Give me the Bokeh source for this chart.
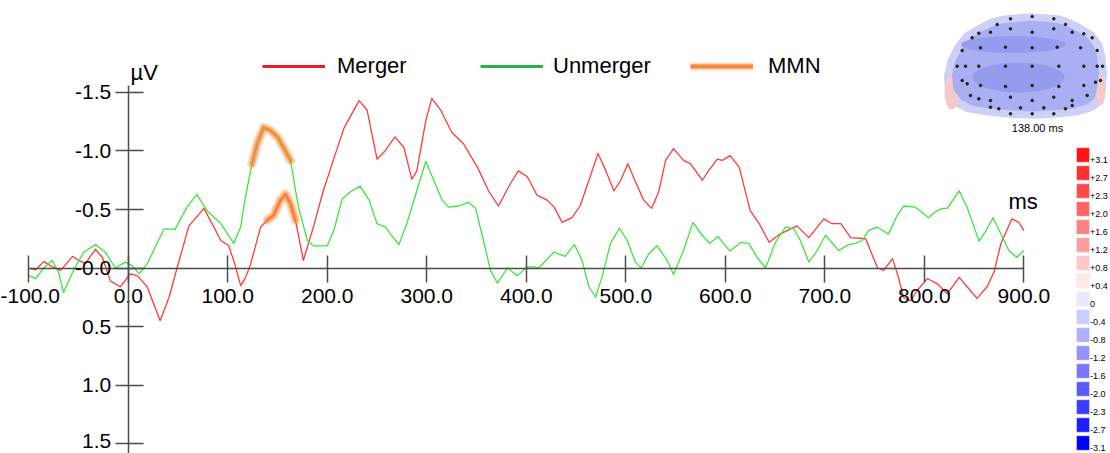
import numpy as np
from bokeh.plotting import figure
from bokeh.models import Range1d, FixedTicker, Legend, LegendItem
from bokeh.core.properties import value
from bokeh.embed import file_html
from bokeh.resources import INLINE

# ---------------- data ----------------
merger_ms = [-100, -93, -85, -76, -68, -56, -50, -43, -33, -26, -18, -8, 2, 9, 19, 32, 41, 49,
             61, 76, 86, 93, 101, 107, 113, 118, 123, 133, 140, 146, 153, 158, 163, 168, 176,
             186, 196, 206, 217, 232, 240, 250, 258, 268, 277, 285, 290, 299, 305, 314, 325,
             337, 351, 362, 372, 384, 392, 401, 411, 421, 428, 436, 446, 454, 463, 472, 480,
             488, 495, 502, 510, 518, 526, 533, 540, 548, 558, 565, 577, 583, 592, 597, 605,
             614, 625, 634, 644, 655, 672, 684, 699, 707, 716, 726, 741, 753, 759, 768, 774,
             779, 786, 793, 803, 813, 823, 835, 843, 853, 863, 870, 877, 888, 895, 900]
merger_uv = [0.00, 0.015, -0.055, -0.01, 0.02, -0.10, -0.065, -0.04, -0.16, -0.09, 0.11, 0.16,
             0.05, 0.065, 0.16, 0.45, 0.25, 0.00, -0.36, -0.51, -0.35, -0.235, -0.19, -0.035,
             0.15, 0.08, -0.035, -0.35, -0.41, -0.45, -0.58, -0.63, -0.55, -0.41, -0.065,
             -0.35, -0.66, -0.92, -1.20, -1.43, -1.35, -0.93, -1.00, -1.12, -1.03, -0.76, -0.83,
             -1.26, -1.45, -1.35, -1.16, -1.06, -0.86, -0.66, -0.53, -0.72, -0.83, -0.78, -0.62,
             -0.58, -0.52, -0.39, -0.43, -0.53, -0.75, -0.98, -0.83, -0.66, -0.75, -0.89, -0.73,
             -0.58, -0.51, -0.65, -0.92, -1.02, -0.92, -0.89, -0.75, -0.83, -0.93, -0.92, -0.96,
             -0.86, -0.49, -0.38, -0.22, -0.29, -0.36, -0.26, -0.42, -0.38, -0.38, -0.26, -0.25,
             0.00, 0.02, -0.08, 0.08, 0.25, 0.28, 0.19, 0.09, 0.135, 0.22, 0.08, 0.16, 0.26,
             0.16, 0.035, -0.21, -0.42, -0.39, -0.32]

unmerger_ms = [-100, -93, -85, -76.5, -70, -65, -55, -45, -33, -23, -13, -3, 4, 11, 19, 36, 47,
               59, 69, 79, 93, 106, 113, 116, 121, 124.4, 129.5, 136, 143, 150, 156, 163, 171,
               180, 186, 200, 206.5, 215, 223, 233, 242, 250, 258.5, 263.5, 272, 280, 290, 299,
               307, 315.5, 322, 332, 342, 349, 357, 364, 371, 381, 391, 401, 407.5, 412.5,
               427.6, 439, 448.4, 456, 463, 469.6, 476, 484.6, 493.7, 501.4, 509.7, 515.4, 523,
               531.5, 541.6, 548, 558, 567.5, 576.8, 584.4, 592.5, 604.5, 616, 623.6, 632,
               640.4, 650.4, 660.5, 668.8, 675.5, 684, 692.4, 700.7, 714, 724, 731, 737.6, 744,
               752.6, 764, 772.8, 779.4, 791, 804.4, 811, 818, 823, 835, 843, 855, 861.5, 869,
               877, 885, 893, 900]
unmerger_uv = [0.065, 0.09, 0.0, -0.065, 0.035, 0.21, 0.02, -0.135, -0.20, -0.135, 0.00, -0.05,
               -0.02, 0.05, -0.035, -0.335, -0.33, -0.52, -0.63, -0.49, -0.38, -0.21, -0.35,
               -0.52, -0.75, -0.89, -1.06, -1.20, -1.175, -1.12, -1.03, -0.92, -0.52, -0.235,
               -0.19, -0.19, -0.32, -0.59, -0.65, -0.70, -0.58, -0.38, -0.35, -0.29, -0.20,
               -0.38, -0.66, -0.91, -0.75, -0.58, -0.52, -0.53, -0.56, -0.51, -0.235, 0.02,
               0.13, 0.00, 0.065, -0.01, -0.01, 0.00, -0.135, -0.10, -0.20, -0.065, 0.16, 0.25,
               0.08, -0.21, -0.34, -0.235, -0.05, 0.00, -0.12, -0.19, -0.065, 0.055, -0.15,
               -0.39, -0.28, -0.21, -0.27, -0.145, -0.22, -0.21, -0.09, 0.00, -0.22, -0.35,
               -0.335, -0.235, -0.05, -0.15, -0.28, -0.15, -0.20, -0.21, -0.235, -0.32, -0.35,
               -0.29, -0.45, -0.53, -0.52, -0.43, -0.48, -0.51, -0.51, -0.66, -0.52, -0.23,
               -0.31, -0.43, -0.29, -0.15, -0.09, -0.15]

mmn_window_merger = (139, 168)
mmn_window_unmerger = (124, 163)

series_names = ["Merger", "Unmerger", "MMN"]
x_ticks = [-100, 0, 100, 200, 300, 400, 500, 600, 700, 800, 900]
x_tick_labels = ["-100.0", "0.0", "100.0", "200.0", "300.0", "400.0", "500.0", "600.0",
                 "700.0", "800.0", "900.0"]
y_ticks = [-1.5, -1.0, -0.5, 0.0, 0.5, 1.0, 1.5]
y_tick_labels = ["-1.5", "-1.0", "-0.5", "-0.0", "0.5", "1.0", "1.5"]
y_unit = "µV"
x_unit = "ms"
topomap_time = "138.00 ms"
colorbar_labels = ["+3.1", "+2.7", "+2.3", "+2.0", "+1.6", "+1.2", "+0.8", "+0.4", "0",
                   "-0.4", "-0.8", "-1.2", "-1.6", "-2.0", "-2.3", "-2.7", "-3.1"]

# ---------------- figure ----------------
W, H = 1110, 453
FONT = "Liberation Sans"
p = figure(width=W, height=H, output_backend="svg", toolbar_location=None,
           x_range=Range1d(-128.4, 987.1), y_range=Range1d(1.585, -2.286),
           min_border=0, background_fill_color="white", border_fill_color="white")
p.outline_line_color = None
p.grid.visible = False
p.extra_x_ranges = {"px": Range1d(0, W)}
p.extra_y_ranges = {"py": Range1d(H, 0)}

AX = "#4d4d4d"
xa = p.xaxis[0]
ya = p.yaxis[0]
xa.fixed_location = 0
ya.fixed_location = 0
xa.ticker = FixedTicker(ticks=x_ticks)
ya.ticker = FixedTicker(ticks=y_ticks)
xa.major_label_overrides = {t: l for t, l in zip(x_ticks, x_tick_labels)}
# the lowest y label sits at the page edge: it is drawn separately, nudged up a little
ya.major_label_overrides = {t: (l if t != y_ticks[-1] else "")
                            for t, l in zip(y_ticks, y_tick_labels)}
xa.bounds = (-100, 900)
ya.bounds = (-1.56, 1.6)
for ax in (xa, ya):
    ax.axis_line_color = AX
    ax.axis_line_width = 1.5
    ax.major_tick_line_color = AX
    ax.major_tick_line_width = 1.5
    ax.minor_tick_line_color = None
    ax.major_label_text_font = FONT
    ax.major_label_text_font_size = "21px"
    ax.major_label_text_color = "black"
xa.major_tick_in = 13
xa.major_tick_out = 14
xa.major_label_standoff = 7
ya.major_tick_in = 15
ya.major_tick_out = 13
ya.major_label_standoff = 4
p.text(x=[0], y=[y_ticks[-1]], text=[y_tick_labels[-1]], x_offset=-17, y_offset=-3,
       text_font=value(FONT), text_font_size="21px", text_color="black",
       text_align="right", text_baseline="middle")

# curves
p.line(merger_ms, merger_uv, line_color="#ff3b3b", line_width=1.3, line_join="round")
p.line(unmerger_ms, unmerger_uv, line_color="#3ce63c", line_width=1.3, line_join="round")

# MMN highlights
def window(ts, vs, lo, hi):
    pts = [(t, v) for t, v in zip(ts, vs) if lo <= t <= hi]
    return [a for a, _ in pts], [b for _, b in pts]

ORANGE = "#f5802a"
for ts, vs, win in [(merger_ms, merger_uv, mmn_window_merger),
                    (unmerger_ms, unmerger_uv, mmn_window_unmerger)]:
    wx, wy = window(ts, vs, *win)
    for lw, la in [(10, 0.22), (7, 0.35), (4, 0.55)]:
        p.line(wx, wy, line_color=ORANGE, line_width=lw, line_alpha=la,
               line_cap="round", line_join="round")

# legend (proxy renderers with no visible data)
nan = [np.nan]
r_m = p.line(nan, nan, line_color="#ed1c24", line_width=3)
r_u = p.line(nan, nan, line_color="#22b14c", line_width=3)
r_o = [p.line(nan, nan, line_color=ORANGE, line_width=lw, line_alpha=la)
       for lw, la in [(8, 0.3), (5, 0.5), (3, 0.8)]]
for rends, lab, lx, so in [([r_m], series_names[0], 262, 12),
                           ([r_u], series_names[1], 480, 10),
                           (r_o, series_names[2], 690, 15)]:
    lg = Legend(items=[LegendItem(label=lab, renderers=rends)], location=(lx, 374),
                orientation="horizontal", padding=0, margin=0, spacing=0,
                border_line_color=None, background_fill_alpha=0,
                label_text_font=FONT, label_text_font_size="22px",
                label_text_color="black", glyph_width=63, glyph_height=20,
                label_standoff=so)
    p.add_layout(lg)

# unit labels
p.text(x=[130, 1008], y=[72, 201], text=[y_unit, x_unit], x_range_name="px",
       y_range_name="py", text_font=value(FONT), text_font_size="22px",
       text_color="black", text_baseline="alphabetic", text_align="left")

# topographic map (decoration)
head_x = [1003.3, 1030, 1060, 1076.7, 1093.3, 1101.7, 1105, 1106.7, 1105, 1101.7, 1093.3,
          1076.7, 1053.3, 1031.7, 1010, 986.7, 966.7, 953.3, 945, 943.3, 946.7, 953.3, 963.3,
          976.7, 990]
head_y = [15, 12.7, 15, 21.7, 31.7, 43.3, 56.7, 73.3, 90, 103.3, 110, 115, 117.3, 118.3,
          117.3, 115, 111.7, 105, 93.3, 76.7, 60, 46.7, 33.3, 25, 18.3]
cx, cy = 1025, 66
p.patch(head_x, head_y, x_range_name="px", y_range_name="py",
        fill_color="#cdd0f7", line_color=None)
p.ellipse(x=[951, 1100], y=[92, 90], width=[14, 10], height=[34, 30], x_range_name="px",
          y_range_name="py", fill_color="#f5c9c9", line_color=None)
p.patch([cx + 0.9 * (x - cx) for x in head_x], [cy + 0.86 * (y - cy) for y in head_y],
        x_range_name="px", y_range_name="py", fill_color="#a9aff2", line_color=None)
p.ellipse(x=[1013, 1018], y=[44, 77], width=[105, 92], height=[17, 30], x_range_name="px",
          y_range_name="py", fill_color="#959ced", line_color=None)
ex = [1002, 1023.7, 1045.3, 988.7, 1002, 1023.7, 1045.3, 1057, 982, 1063.7, 1075.3, 970.3,
      963.7, 1083.7, 953.7, 972, 997, 1023.7, 1048.7, 1072, 1088.7, 948.7, 957, 970.3, 997,
      1023.7, 1050.3, 1075.3, 1088.7, 1094, 953.7, 958.7, 972, 997, 1023.7, 1050.3, 1075.3,
      1087, 1092, 962, 970.3, 982, 1002, 1023.7, 1045.3, 1063.7, 1078.7, 982, 990.3, 1012,
      1035.3, 1057, 1063.7, 1002, 1023.7, 1045.3]
ey = [10.3, 8, 10.3, 16, 20.3, 23.7, 20.3, 16, 23.7, 23.7, 25.3, 24.7, 29.3, 29.3, 42, 39.3,
      38.7, 39.3, 38.7, 39.3, 42, 57.7, 57.7, 57.7, 57.7, 57.7, 57.7, 57.7, 57.7, 57.7, 72,
      75.3, 77, 78, 77, 78, 77, 73.7, 72, 87, 90.3, 92, 88.7, 92, 88.7, 92, 87, 98.7, 100.3,
      99.3, 99.3, 100.3, 97, 105.3, 105.3, 105.3]
p.scatter([x + 8 for x in ex], [y + 8 for y in ey], x_range_name="px", y_range_name="py",
          size=2.6, color="#222222")
p.text(x=[1037], y=[127], text=[topomap_time], x_range_name="px", y_range_name="py",
       text_font=value(FONT), text_font_size="11px", text_color="black",
       text_baseline="middle", text_align="center")

# colour scale (decoration)
cb_colors = ["#ff1414", "#ff3030", "#ff4a4a", "#ff6464", "#ff8080", "#ff9c9c", "#ffc8c8",
             "#ffe8e8", "#eaeaff", "#ccccff", "#b0b0ff", "#9494ff", "#7878ff", "#5a5aff",
             "#3c3cff", "#1e1eff", "#0000ff"]
rows = list(range(len(colorbar_labels)))
p.rect(x=[1082.5] * len(rows), y=[154.5 + 18 * i for i in rows], width=13, height=14.5,
       x_range_name="px", y_range_name="py", fill_color=cb_colors, line_color="#f0f0f0",
       line_width=0.5)
p.text(x=[1089.5] * len(rows), y=[159 + 18 * i for i in rows], text=colorbar_labels,
       x_range_name="px", y_range_name="py", text_font=value(FONT), text_font_size="9px",
       text_color="black", text_baseline="middle", text_align="left")

open("out.html", "w").write(file_html(p, INLINE))
